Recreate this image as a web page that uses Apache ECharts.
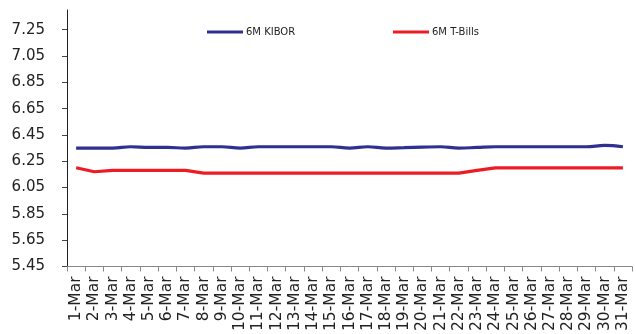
<!DOCTYPE html>
<html>
<head>
<meta charset="utf-8">
<script src="https://cdn.jsdelivr.net/npm/echarts@6/dist/echarts.min.js"></script>
<style>
  html, body { margin: 0; padding: 0; background: #fff; }
  #chart { width: 636px; height: 334px; }
</style>
</head>
<body>
<div id="chart"></div>
<script>
// Daily March rates, percent
const days = [
  '1-Mar','2-Mar','3-Mar','4-Mar','5-Mar','6-Mar','7-Mar','8-Mar','9-Mar','10-Mar',
  '11-Mar','12-Mar','13-Mar','14-Mar','15-Mar','16-Mar','17-Mar','18-Mar','19-Mar','20-Mar',
  '21-Mar','22-Mar','23-Mar','24-Mar','25-Mar','26-Mar','27-Mar','28-Mar','29-Mar','30-Mar','31-Mar'
];
const kibor6m = [
  6.35, 6.35, 6.35, 6.36, 6.355, 6.355, 6.35, 6.36, 6.36, 6.35,
  6.36, 6.36, 6.36, 6.36, 6.36, 6.35, 6.36, 6.35, 6.353, 6.357,
  6.36, 6.35, 6.355, 6.36, 6.36, 6.36, 6.36, 6.36, 6.36, 6.37, 6.36
];
const tbills6m = [
  6.20, 6.17, 6.18, 6.18, 6.18, 6.18, 6.18, 6.16, 6.16, 6.16,
  6.16, 6.16, 6.16, 6.16, 6.16, 6.16, 6.16, 6.16, 6.16, 6.16,
  6.16, 6.16, 6.18, 6.20, 6.20, 6.20, 6.20, 6.20, 6.20, 6.20, 6.20
];
const yTicks = [5.45, 5.65, 5.85, 6.05, 6.25, 6.45, 6.65, 6.85, 7.05, 7.25];

const FONT = '"DejaVu Sans", sans-serif';
const BLUE = '#2E3192';
const RED = '#ED1C24';

const legendBase = {
  top: 27, padding: 0, itemGap: 0,
  icon: 'rect', itemWidth: 36, itemHeight: 3,
  textStyle: { fontFamily: FONT, fontSize: 10, color: '#222', padding: [0, 0, 0, -2] }
};

const chart = echarts.init(document.getElementById('chart'), null, { renderer: 'canvas' });
chart.setOption({
  animation: false,
  grid: { left: 67, right: 4, top: 10, bottom: 67, containLabel: false },
  legend: [
    Object.assign({ data: ['6M KIBOR'], left: 207 }, legendBase),
    Object.assign({ data: ['6M T-Bills'], left: 393 }, legendBase)
  ],
  xAxis: {
    type: 'category',
    data: days,
    boundaryGap: true,
    axisLine: { lineStyle: { color: '#888', width: 1 } },
    axisTick: { show: true, length: 5, inside: false, alignWithLabel: false, interval: 0, lineStyle: { color: '#888' } },
    axisLabel: {
      interval: 0, rotate: 90, margin: 10,
      fontFamily: FONT, fontSize: 15.5, color: '#222'
    },
    splitLine: { show: false }
  },
  yAxis: {
    type: 'value',
    min: 5.45, max: 7.4,
    axisLine: { show: true, lineStyle: { color: '#222', width: 1 } },
    axisTick: { show: true, length: 5, customValues: yTicks, lineStyle: { color: '#444' } },
    axisLabel: {
      customValues: yTicks, margin: 22,
      fontFamily: FONT, fontSize: 15, color: '#222',
      formatter: v => v.toFixed(2)
    },
    splitLine: { show: false }
  },
  series: [
    {
      name: '6M KIBOR', type: 'line', data: kibor6m,
      symbol: 'none', smooth: 0.4,
      lineStyle: { color: BLUE, width: 3.2 }, itemStyle: { color: BLUE }
    },
    {
      name: '6M T-Bills', type: 'line', data: tbills6m,
      symbol: 'none', smooth: false,
      lineStyle: { color: RED, width: 3.2 }, itemStyle: { color: RED }
    }
  ]
});
</script>
</body>
</html>
